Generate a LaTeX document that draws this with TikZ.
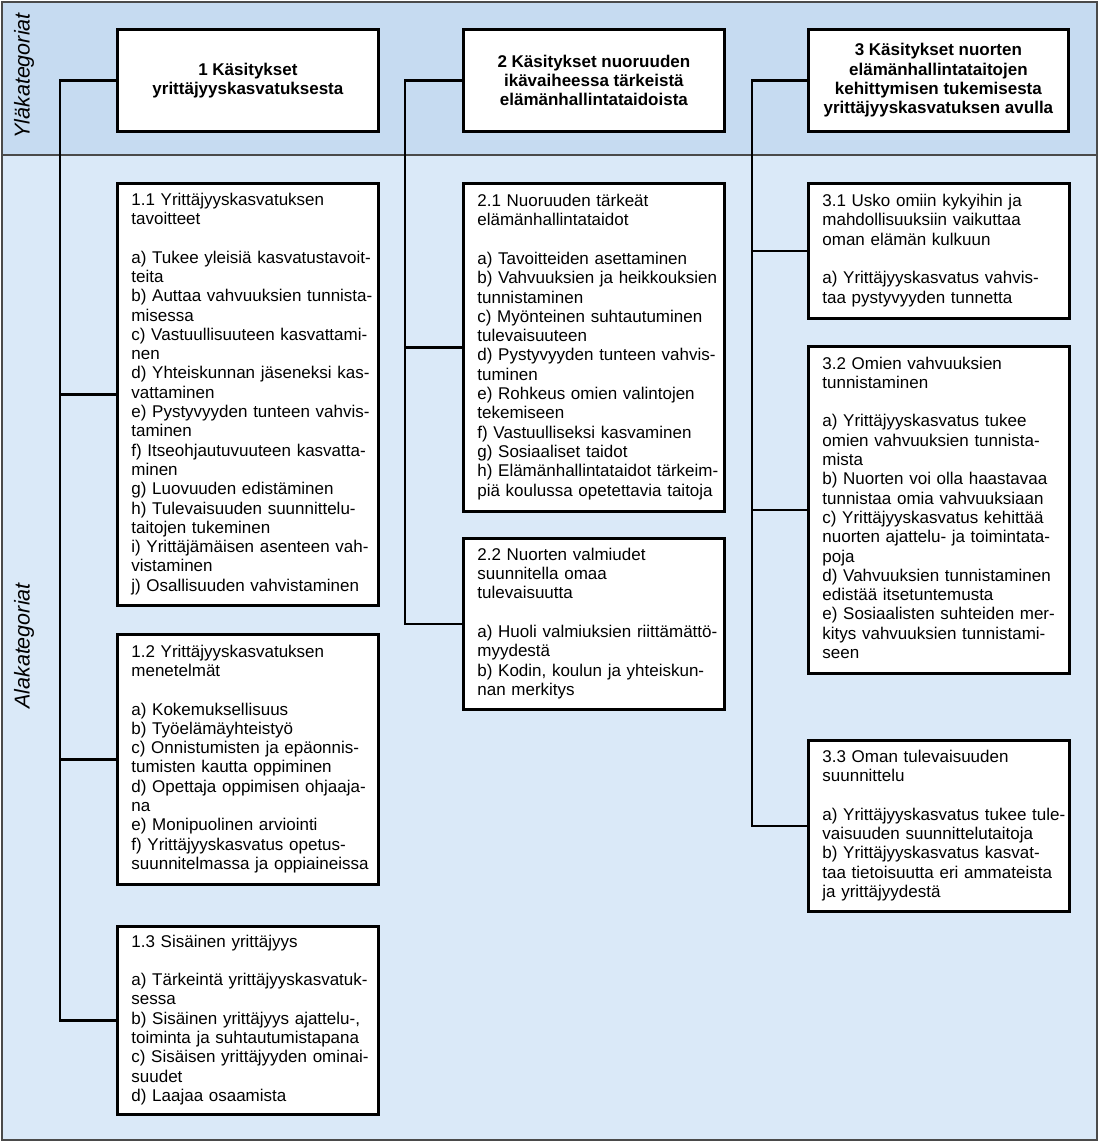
\documentclass[tikz,border=0pt]{standalone}
\usepackage{fontspec}
\setmainfont{Liberation Sans}
\definecolor{ylaband}{HTML}{C6DBF1}
\definecolor{alaband}{HTML}{DAE9F8}
\definecolor{framegray}{HTML}{4A4A4A}
\tikzset{
  topbox/.style={draw, line width=2.8pt, fill=white, anchor=north west,
    minimum width=261pt, minimum height=102pt, inner sep=0pt, align=center,
    font=\fontsize{17}{19.3}\selectfont\bfseries
  },
  subbox/.style={draw, line width=2.8pt, fill=white, anchor=north west,
    text width=233pt, inner xsep=14pt, inner ysep=0pt, align=left,
    font=\fontsize{17}{19.3}\selectfont
  },
  conn/.style={line width=2.8pt},
  catlabel/.style={rotate=90, font=\fontsize{21.5}{24}\selectfont\itshape}
}
\newcommand{\boxlines}[1]{\begin{tabular}{@{}l@{}}#1\end{tabular}}

\begin{document}
\begin{tikzpicture}[x=1pt,y=-1pt]
   \useasboundingbox (0,0) rectangle (1100,1143);
   % bands
   \fill[ylaband] (2,2) rectangle (1097,155);
   \fill[alaband] (2,155) rectangle (1097,1140);
   \draw[framegray,line width=1.2pt] (2,155) -- (1097,155);
   \draw[framegray,line width=1.5pt] (2,2) rectangle (1097,1140);
   \node[catlabel] (yla) at (24,76) {Yläkategoriat};
   \node[catlabel] (ala) at (24,646) {Alakategoriat};

   % buses
   \coordinate (bus1) at (60,0);
   \coordinate (bus2) at (405,0);
   \coordinate (bus3) at (752,0);

   % upper categories
   \node[topbox] (k1) at (116,28) {1 Käsitykset\\yrittäjyyskasvatuksesta};
   \node[topbox] (k2) at (462,28) {2 Käsitykset nuoruuden\\ikävaiheessa tärkeistä\\elämänhallintataidoista};
   \node[topbox, minimum width=260pt] (k3) at (807,28) {3 Käsitykset nuorten\\elämänhallintataitojen\\kehittymisen tukemisesta\\yrittäjyyskasvatuksen avulla};

   % lower categories
   \node[subbox, minimum height=422pt] (k11) at (116,182) {\boxlines{1.1 Yrittäjyyskasvatuksen\\tavoitteet\\ \\a) Tukee yleisiä kasvatustavoit-\\teita\\b) Auttaa vahvuuksien tunnista-\\misessa\\c) Vastuullisuuteen kasvattami-\\nen\\d) Yhteiskunnan jäseneksi kas-\\vattaminen\\e) Pystyvyyden tunteen vahvis-\\taminen\\f) Itseohjautuvuuteen kasvatta-\\minen\\g) Luovuuden edistäminen\\h) Tulevaisuuden suunnittelu-\\taitojen tukeminen\\i) Yrittäjämäisen asenteen vah-\\vistaminen\\j) Osallisuuden vahvistaminen}};
   \node[subbox, minimum height=250pt] (k12) at (116,633) {\boxlines{1.2 Yrittäjyyskasvatuksen\\menetelmät\\ \\a) Kokemuksellisuus\\b) Työelämäyhteistyö\\c) Onnistumisten ja epäonnis-\\tumisten kautta oppiminen\\d) Opettaja oppimisen ohjaaja-\\na\\e) Monipuolinen arviointi\\f) Yrittäjyyskasvatus opetus-\\suunnitelmassa ja oppiaineissa}};
   \node[subbox, minimum height=188pt] (k13) at (116,925) {\boxlines{1.3 Sisäinen yrittäjyys\\ \\a) Tärkeintä yrittäjyyskasvatuk-\\sessa\\b) Sisäinen yrittäjyys ajattelu-,\\toiminta ja suhtautumistapana\\c) Sisäisen yrittäjyyden ominai-\\suudet\\d) Laajaa osaamista}};

   \node[subbox, minimum height=328pt] (k21) at (462,182) {\boxlines{2.1 Nuoruuden tärkeät\\elämänhallintataidot\\ \\a) Tavoitteiden asettaminen\\b) Vahvuuksien ja heikkouksien\\tunnistaminen\\c) Myönteinen suhtautuminen\\tulevaisuuteen\\d) Pystyvyyden tunteen vahvis-\\tuminen\\e) Rohkeus omien valintojen\\tekemiseen\\f) Vastuulliseksi kasvaminen\\g) Sosiaaliset taidot\\h) Elämänhallintataidot tärkeim-\\piä koulussa opetettavia taitoja}};
   \node[subbox, minimum height=171pt] (k22) at (462,537) {\boxlines{2.2 Nuorten valmiudet\\suunnitella omaa\\tulevaisuutta\\ \\a) Huoli valmiuksien riittämättö-\\myydestä\\b) Kodin, koulun ja yhteiskun-\\nan merkitys}};

   \node[subbox, minimum height=135pt] (k31) at (807,182) {\boxlines{3.1 Usko omiin kykyihin ja\\mahdollisuuksiin vaikuttaa\\oman elämän kulkuun\\ \\a) Yrittäjyyskasvatus vahvis-\\taa pystyvyyden tunnetta}};
   \node[subbox, minimum height=327pt] (k32) at (807,345) {\boxlines{3.2 Omien vahvuuksien\\tunnistaminen\\ \\a) Yrittäjyyskasvatus tukee\\omien vahvuuksien tunnista-\\mista\\b) Nuorten voi olla haastavaa\\tunnistaa omia vahvuuksiaan\\c) Yrittäjyyskasvatus kehittää\\nuorten ajattelu- ja toimintata-\\poja\\d) Vahvuuksien tunnistaminen\\edistää itsetuntemusta\\e) Sosiaalisten suhteiden mer-\\kitys vahvuuksien tunnistami-\\seen}};
   \node[subbox, minimum height=171pt] (k33) at (807,739) {\boxlines{3.3 Oman tulevaisuuden\\suunnittelu\\ \\a) Yrittäjyyskasvatus tukee tule-\\vaisuuden suunnittelutaitoja\\b) Yrittäjyyskasvatus kasvat-\\taa tietoisuutta eri ammateista\\ja yrittäjyydestä}};

   % connectors
   \draw[conn] (k1.west) -- (k1.west -| bus1) |- (k13.west);
   \draw[conn] (k11.west) -- (k11.west -| bus1);
   \draw[conn] (k12.west) -- (k12.west -| bus1);
   \draw[conn] (k2.west) -- (k2.west -| bus2) |- (k22.west);
   \draw[conn] (k21.west) -- (k21.west -| bus2);
   \draw[conn] (k3.west) -- (k3.west -| bus3) |- (k33.west);
   \draw[conn] (k31.west) -- (k31.west -| bus3);
   \draw[conn] (k32.west) -- (k32.west -| bus3);
\end{tikzpicture}
\end{document}
